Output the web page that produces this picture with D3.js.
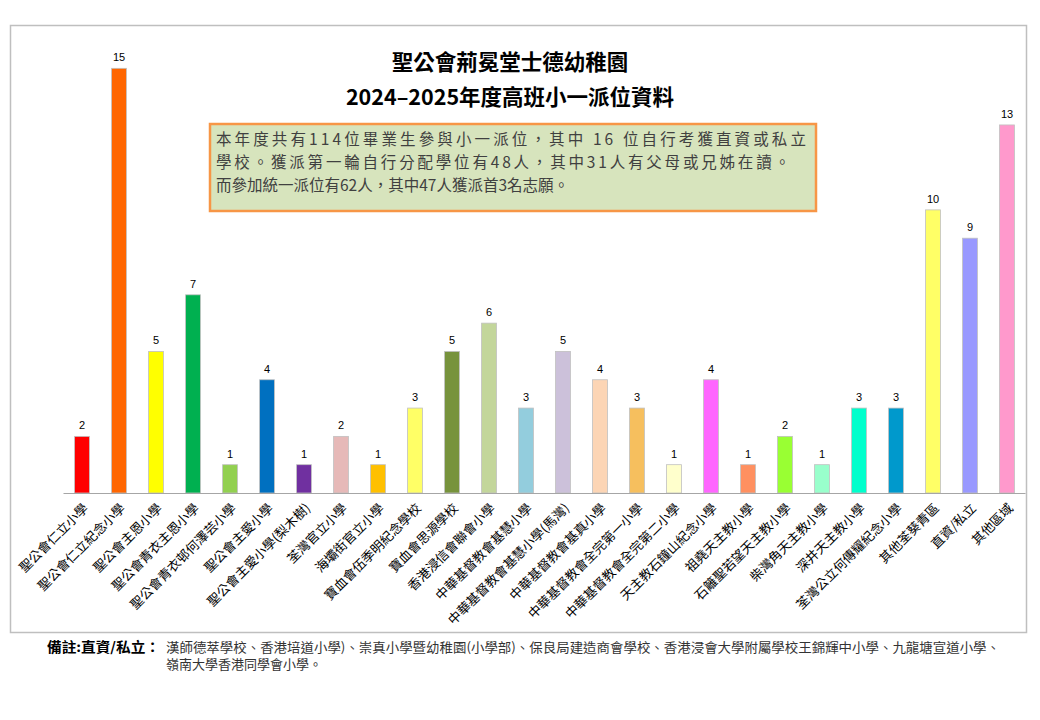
<!DOCTYPE html>
<html>
<head>
<meta charset="utf-8">
<script src="https://d3js.org/d3.v7.min.js"></script>
<style>
  body { margin:0; background:#fff; }
  svg { display:block; }
</style>
</head>
<body>
<svg id="chart" width="1040" height="720"></svg>
<script>
// nomes das escolas (eixo x)
var schools = [
  "聖公會仁立小學", "聖公會仁立紀念小學", "聖公會主恩小學", "聖公會青衣主恩小學",
  "聖公會青衣邨何澤芸小學", "聖公會主愛小學", "聖公會主愛小學(梨木樹)", "荃灣官立小學",
  "海壩街官立小學", "寶血會伍季明紀念學校", "寶血會思源學校", "香港浸信會聯會小學",
  "中華基督教會基慧小學", "中華基督教會基慧小學(馬灣)", "中華基督教會基真小學",
  "中華基督教會全完第一小學", "中華基督教會全完第二小學", "天主教石鐘山紀念小學",
  "祖堯天主教小學", "石籬聖若望天主教小學", "柴灣角天主教小學", "深井天主教小學",
  "荃灣公立何傳耀紀念小學", "其他荃葵青區", "直資/私立", "其他區域"
];
var counts = [2, 15, 5, 7, 1, 4, 1, 2, 1, 3, 5, 6, 3, 5, 4, 3, 1, 4, 1, 2, 1, 3, 3, 10, 9, 13];
var barColors = [
  "#ff0000", "#ff6600", "#ffff00", "#00b050", "#92d050", "#0070c0", "#7030a0", "#e6b9b8",
  "#ffc000", "#ffff66", "#77933c", "#c3d69b", "#93cddd", "#ccc1da", "#fcd5b5", "#f6bf5e",
  "#ffffcc", "#ff66ff", "#ff9060", "#99ff33", "#99ffcc", "#00ffcc", "#0099cc", "#ffff66",
  "#9999ff", "#ff99cc"
];
var titleLines = ["聖公會荊冕堂士德幼稚園", "2024–2025年度高班小一派位資料"];
var boxLines = [
  "本年度共有114位畢業生參與小一派位，其中 16 位自行考獲直資或私立",
  "學校。獲派第一輪自行分配學位有48人，其中31人有父母或兄姊在讀。",
  "而參加統一派位有62人，其中47人獲派首3名志願。"
];
var noteLabel = "備註:直資/私立：";
var noteLines = [
  "漢師德萃學校、香港培道小學)、崇真小學暨幼稚園(小學部)、保良局建造商會學校、香港浸會大學附屬學校王錦輝中小學、九龍塘宣道小學、",
  "嶺南大學香港同學會小學。"
];

var svg = d3.select("#chart");
var cjk = "'Noto Sans CJK TC', 'Noto Sans CJK SC', sans-serif";

// moldura do grafico
svg.append("rect")
  .attr("x", 10.5).attr("y", 25.5)
  .attr("width", 1016).attr("height", 607)
  .attr("fill", "#fff")
  .attr("stroke", "#bfbfbf")
  .attr("stroke-width", 1.5);

var plot = {left: 63.5, right: 1025.5, top: 40, bottom: 493};

var xScale = d3.scaleBand()
  .domain(schools)
  .range([plot.left, plot.right])
  .paddingInner(0.6)
  .paddingOuter(0.3);

var yScale = d3.scaleLinear()
  .domain([0, 16])
  .range([plot.bottom, plot.top]);

// barras
svg.append("g").selectAll("rect").data(counts).enter()
  .append("rect")
  .attr("x", (d, i) => xScale(schools[i]))
  .attr("y", d => yScale(d))
  .attr("width", xScale.bandwidth())
  .attr("height", d => plot.bottom - yScale(d))
  .attr("fill", (d, i) => barColors[i])
  .attr("stroke", "#c0c0c0")
  .attr("stroke-width", 0.8);

// valores em cima das barras
svg.append("g").selectAll("text").data(counts).enter()
  .append("text")
  .attr("x", (d, i) => xScale(schools[i]) + xScale.bandwidth() / 2)
  .attr("y", d => yScale(d) - 7)
  .attr("text-anchor", "middle")
  .style("font-family", "'Liberation Sans', Arial, sans-serif")
  .style("font-size", "11px")
  .style("fill", "#000")
  .text(d => d);

// eixo x
var xAxis = svg.append("g")
  .attr("transform", "translate(0," + plot.bottom + ")")
  .call(d3.axisBottom(xScale).tickSize(0).tickPadding(0));
xAxis.select(".domain").attr("stroke", "#a6a6a6").attr("stroke-width", 1.2)
  .attr("d", "M" + plot.left + ",0.5H" + plot.right);
xAxis.selectAll(".tick text")
  .attr("text-anchor", "end")
  .attr("dy", 0)
  .attr("transform", "translate(7,16) rotate(-45)")
  .style("font-family", cjk)
  .style("font-size", "13px")
  .style("fill", "#000");

// titulo
svg.append("g").selectAll("text").data(titleLines).enter()
  .append("text")
  .attr("x", 510)
  .attr("y", (d, i) => 70 + i * 35)
  .attr("text-anchor", "middle")
  .style("font-family", cjk)
  .style("font-weight", "bold")
  .style("font-size", "21.5px")
  .style("fill", "#000")
  .text(d => d);

// caixa de texto
svg.append("rect")
  .attr("x", 210).attr("y", 124)
  .attr("width", 606).attr("height", 87)
  .attr("fill", "#d7e4bd")
  .attr("stroke", "#f79646")
  .attr("stroke-width", 2.5);
var boxLen = [590, 574, null];
svg.append("g").selectAll("text").data(boxLines).enter()
  .append("text")
  .attr("x", 216)
  .attr("y", (d, i) => 145 + i * 23)
  .attr("textLength", (d, i) => boxLen[i])
  .attr("lengthAdjust", "spacing")
  .style("font-family", cjk)
  .style("font-size", "15.5px")
  .style("fill", "#404040")
  .text(d => d);

// nota de rodape
svg.append("text")
  .attr("x", 47).attr("y", 652)
  .attr("textLength", 113)
  .attr("lengthAdjust", "spacingAndGlyphs")
  .style("font-family", cjk)
  .style("font-weight", "bold")
  .style("font-size", "13.5px")
  .style("fill", "#000")
  .text(noteLabel);
svg.append("g").selectAll("text").data(noteLines).enter()
  .append("text")
  .attr("x", 166)
  .attr("y", (d, i) => 652 + i * 17)
  .attr("textLength", (d, i) => i === 0 ? 834 : null)
  .attr("lengthAdjust", "spacingAndGlyphs")
  .style("font-family", cjk)
  .style("font-size", "13px")
  .style("fill", "#333")
  .text(d => d);
</script>
</body>
</html>
